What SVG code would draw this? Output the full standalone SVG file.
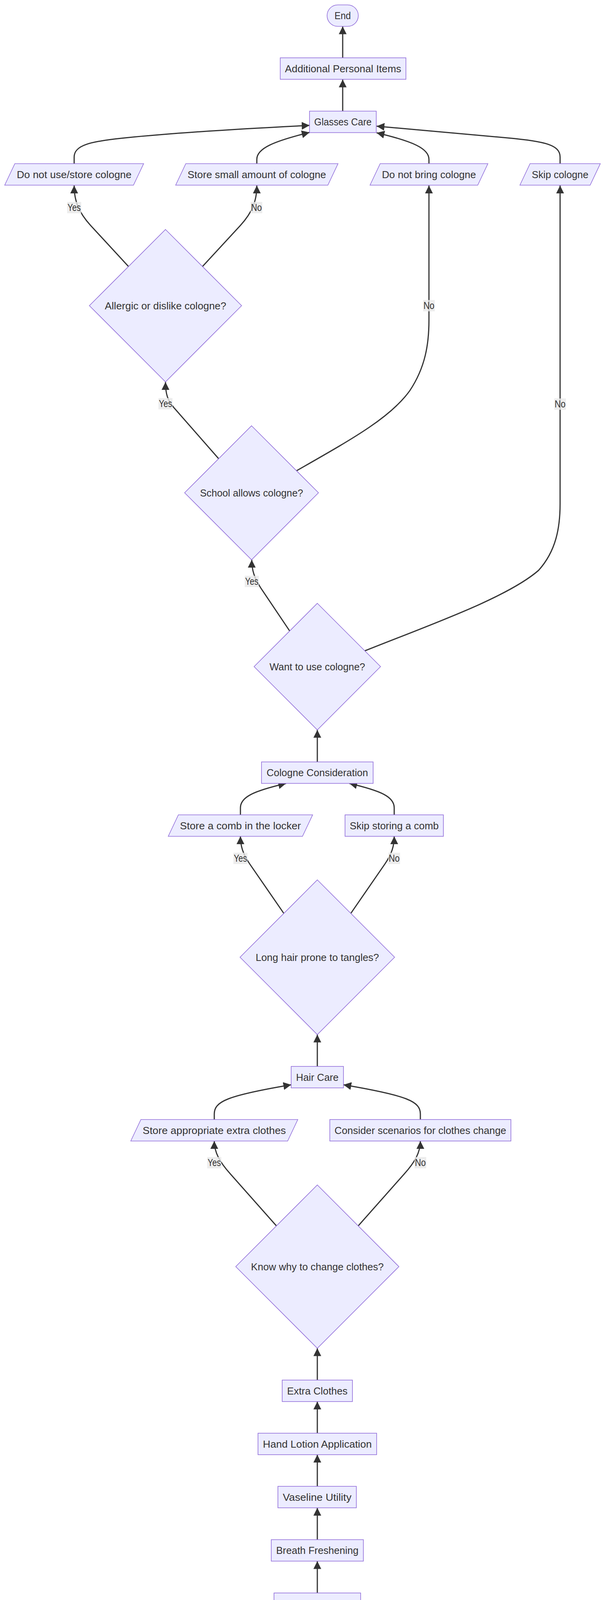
<svg xmlns="http://www.w3.org/2000/svg" width="1568" height="5918" viewBox="0 0 1568 5918">
<defs>
<marker id="arrow" viewBox="0 0 10 10" refX="10" refY="5" markerUnits="userSpaceOnUse" markerWidth="20" markerHeight="20" orient="auto">
<path d="M0,0 L10,5 L0,10 z" fill="#333333"/>
</marker>
</defs>
<style>
.node{fill:#ECECFF;stroke:#9370DB;stroke-width:1.6}
.t{font-family:"Liberation Sans",Arial,sans-serif;font-size:26px;fill:#333333;text-anchor:middle}
.e{fill:none;stroke:#333333;stroke-width:3;marker-end:url(#arrow)}
.lb{fill:#E8E8E8;fill-opacity:0.8}
.lt{font-family:"Liberation Sans",Arial,sans-serif;font-size:25px;fill:#333333;text-anchor:middle}
</style>
<rect width="1568" height="5918" fill="#ffffff"/>
<g id="edges">
<path class="e" d="M329,682 L232,577 C202,544 190,515 190,475"/>
<path class="e" d="M519,682 L616,577 C646,544 658,515 658,475"/>
<path class="e" d="M560,1174 L445,1043 C430,1025 424,1010 424,978"/>
<path class="e" d="M760,1205 C900,1125 1000,1070 1050,1000 C1090,940 1099,880 1099,820 L1099,475"/>
<path class="e" d="M742,1615 L668,1505 C652,1480 645,1460 645,1433"/>
<path class="e" d="M935,1666 C1100,1600 1300,1530 1380,1460 C1425,1410 1435,1350 1435,1290 L1435,475"/>
<path class="e" d="M190,419 L190,402 C190,372 230,362 320,353 C450,340 650,328 793,321"/>
<path class="e" d="M658,419 L658,408 C658,380 700,362 793,339"/>
<path class="e" d="M1099,419 L1099,408 C1099,380 1058,362 965,340"/>
<path class="e" d="M1435,419 L1435,402 C1435,372 1400,362 1300,353 C1150,340 1050,330 965,323"/>
<path class="e" d="M878,284 L878,203.5"/>
<path class="e" d="M878,148 L878,67.5"/>
<path class="e" d="M813,1950 L813,1868.5"/>
<path class="e" d="M616,2086 L616,2068 C616,2040 650,2025 733,2005.5"/>
<path class="e" d="M1010,2086 L1010,2068 C1010,2040 978,2025 895,2005.5"/>
<path class="e" d="M727,2338 L640,2212 C622,2186 616,2165 616,2141"/>
<path class="e" d="M899,2338 L986,2212 C1004,2186 1010,2165 1010,2141"/>
<path class="e" d="M813,2730 L813,2648.5"/>
<path class="e" d="M549,2866 L549,2852 C549,2820 580,2805 746,2777"/>
<path class="e" d="M1077,2866 L1077,2852 C1077,2820 1046,2805 880,2777"/>
<path class="e" d="M708,3138 L590,3005 C563,2975 549,2950 549,2921"/>
<path class="e" d="M918,3138 L1036,3005 C1063,2975 1077,2950 1077,2921"/>
<path class="e" d="M813,3533 L813,3451.5"/>
<path class="e" d="M813,3669 L813,3588"/>
<path class="e" d="M813,3805 L813,3724"/>
<path class="e" d="M813,3941.5 L813,3860"/>
<path class="e" d="M813,4078 L813,3996.5"/>
<path class="e" d="M568,4214 L568,4198 C568,4165 600,4150 712,4132.5"/>
<path class="e" d="M1059,4214 L1059,4198 C1059,4165 1025,4150 915,4132.5"/>
<path class="e" d="M720,4472 L605,4357 C580,4330 568,4305 568,4268.5"/>
<path class="e" d="M906,4472 L1021,4357 C1046,4330 1058,4305 1058,4268.5"/>
<path class="e" d="M813,4815 L813,4733.5"/>
<path class="e" d="M602,4951 L602,4932 C602,4905 630,4890 718,4870"/>
<path class="e" d="M1023,4951 L1023,4932 C1023,4905 995,4890 906,4870"/>
<path class="e" d="M734,5197 L630,5087 C610,5063 602,5040 602,5006"/>
<path class="e" d="M892,5197 L996,5087 C1016,5063 1023,5040 1023,5006"/>
<path class="e" d="M813,5516 L813,5434"/>
<path class="e" d="M813,5652 L813,5571"/>
<path class="e" d="M813,5788 L813,5707"/>
</g>
<g id="edge-labels">
<rect class="lb" x="172" y="517" width="36" height="29"/><text class="lt" x="190" y="540" textLength="34" lengthAdjust="spacingAndGlyphs">Yes</text>
<rect class="lb" x="642" y="517" width="30" height="29"/><text class="lt" x="657" y="540" textLength="28" lengthAdjust="spacingAndGlyphs">No</text>
<rect class="lb" x="1084" y="768" width="30" height="29"/><text class="lt" x="1099" y="791" textLength="28" lengthAdjust="spacingAndGlyphs">No</text>
<rect class="lb" x="406" y="1019" width="36" height="29"/><text class="lt" x="424" y="1042" textLength="34" lengthAdjust="spacingAndGlyphs">Yes</text>
<rect class="lb" x="1420" y="1020" width="30" height="29"/><text class="lt" x="1435" y="1043" textLength="28" lengthAdjust="spacingAndGlyphs">No</text>
<rect class="lb" x="627" y="1474" width="36" height="29"/><text class="lt" x="645" y="1497" textLength="34" lengthAdjust="spacingAndGlyphs">Yes</text>
<rect class="lb" x="598" y="2183" width="36" height="29"/><text class="lt" x="616" y="2206" textLength="34" lengthAdjust="spacingAndGlyphs">Yes</text>
<rect class="lb" x="995" y="2183" width="30" height="29"/><text class="lt" x="1010" y="2206" textLength="28" lengthAdjust="spacingAndGlyphs">No</text>
<rect class="lb" x="531" y="2962" width="36" height="29"/><text class="lt" x="549" y="2985" textLength="34" lengthAdjust="spacingAndGlyphs">Yes</text>
<rect class="lb" x="1062" y="2962" width="30" height="29"/><text class="lt" x="1077" y="2985" textLength="28" lengthAdjust="spacingAndGlyphs">No</text>
<rect class="lb" x="549" y="4308" width="36" height="29"/><text class="lt" x="567" y="4331" textLength="34" lengthAdjust="spacingAndGlyphs">Yes</text>
<rect class="lb" x="1043" y="4308" width="30" height="29"/><text class="lt" x="1058" y="4331" textLength="28" lengthAdjust="spacingAndGlyphs">No</text>
<rect class="lb" x="584" y="5049" width="36" height="29"/><text class="lt" x="602" y="5072" textLength="34" lengthAdjust="spacingAndGlyphs">Yes</text>
<rect class="lb" x="1008" y="5049" width="30" height="29"/><text class="lt" x="1023" y="5072" textLength="28" lengthAdjust="spacingAndGlyphs">No</text>
</g>
<g id="End"><rect class="node" x="838" y="12.5" width="80" height="55" rx="27.5" ry="27.5"/><text class="t" x="878" y="49" textLength="42" lengthAdjust="spacingAndGlyphs">End</text></g>
<g id="AdditionalPersonalItems"><rect class="node" x="718" y="148" width="322" height="55"/><text class="t" x="879" y="184.5" textLength="298" lengthAdjust="spacingAndGlyphs">Additional Personal Items</text></g>
<g id="GlassesCare"><rect class="node" x="793" y="284.5" width="171" height="55"/><text class="t" x="878.5" y="321" textLength="147" lengthAdjust="spacingAndGlyphs">Glasses Care</text></g>
<g id="DoNotUseCologne"><polygon class="node" points="12,474 38,419 368,419 342,474"/><text class="t" x="190" y="455.5" textLength="294" lengthAdjust="spacingAndGlyphs">Do not use/store cologne</text></g>
<g id="StoreSmallCologne"><polygon class="node" points="450,474 476,419 866,419 840,474"/><text class="t" x="658" y="455.5" textLength="355" lengthAdjust="spacingAndGlyphs">Store small amount of cologne</text></g>
<g id="DoNotBringCologne"><polygon class="node" points="948,474 974,419 1250,419 1224,474"/><text class="t" x="1099" y="455.5" textLength="241" lengthAdjust="spacingAndGlyphs">Do not bring cologne</text></g>
<g id="SkipCologne"><polygon class="node" points="1332,474 1358,419 1538,419 1512,474"/><text class="t" x="1435" y="455.5" textLength="145" lengthAdjust="spacingAndGlyphs">Skip cologne</text></g>
<g id="AllergicCologne"><polygon class="node" points="424,587.5 619,782.5 424,977.5 229,782.5"/><text class="t" x="424" y="791.5" textLength="311" lengthAdjust="spacingAndGlyphs">Allergic or dislike cologne?</text></g>
<g id="SchoolAllows"><polygon class="node" points="644.5,1090 816,1261.5 644.5,1433 473,1261.5"/><text class="t" x="644.5" y="1270.5" textLength="264" lengthAdjust="spacingAndGlyphs">School allows cologne?</text></g>
<g id="WantCologne"><polygon class="node" points="813,1544.5 975,1706.5 813,1868.5 651,1706.5"/><text class="t" x="813" y="1715.5" textLength="245" lengthAdjust="spacingAndGlyphs">Want to use cologne?</text></g>
<g id="CologneConsideration"><rect class="node" x="670" y="1950.5" width="286" height="55"/><text class="t" x="813" y="1987" textLength="260" lengthAdjust="spacingAndGlyphs">Cologne Consideration</text></g>
<g id="StoreComb"><polygon class="node" points="431,2141 457,2086 801,2086 775,2141"/><text class="t" x="616" y="2122.5" textLength="310" lengthAdjust="spacingAndGlyphs">Store a comb in the locker</text></g>
<g id="SkipComb"><rect class="node" x="884" y="2086" width="252" height="55"/><text class="t" x="1010" y="2122.5" textLength="228" lengthAdjust="spacingAndGlyphs">Skip storing a comb</text></g>
<g id="LongHair"><polygon class="node" points="813,2252.5 1011,2450.5 813,2648.5 615,2450.5"/><text class="t" x="813" y="2459.5" textLength="316" lengthAdjust="spacingAndGlyphs">Long hair prone to tangles?</text></g>
<g id="HairCare"><rect class="node" x="746" y="2730" width="134" height="55"/><text class="t" x="813" y="2766.5" textLength="109" lengthAdjust="spacingAndGlyphs">Hair Care</text></g>
<g id="StoreExtraClothes"><polygon class="node" points="335,2921 361,2866 763,2866 737,2921"/><text class="t" x="549" y="2902.5" textLength="367" lengthAdjust="spacingAndGlyphs">Store appropriate extra clothes</text></g>
<g id="ConsiderScenarios"><rect class="node" x="845" y="2866" width="464" height="55"/><text class="t" x="1077" y="2902.5" textLength="440" lengthAdjust="spacingAndGlyphs">Consider scenarios for clothes change</text></g>
<g id="KnowWhyChange"><polygon class="node" points="813,3033.5 1022,3242.5 813,3451.5 604,3242.5"/><text class="t" x="813" y="3251.5" textLength="340" lengthAdjust="spacingAndGlyphs">Know why to change clothes?</text></g>
<g id="ExtraClothes"><rect class="node" x="723" y="3533" width="180" height="55"/><text class="t" x="813" y="3569.5" textLength="155" lengthAdjust="spacingAndGlyphs">Extra Clothes</text></g>
<g id="HandLotion"><rect class="node" x="661" y="3669" width="304" height="55"/><text class="t" x="813" y="3705.5" textLength="279" lengthAdjust="spacingAndGlyphs">Hand Lotion Application</text></g>
<g id="VaselineUtility"><rect class="node" x="712" y="3805" width="201" height="55"/><text class="t" x="812.5" y="3841.5" textLength="176" lengthAdjust="spacingAndGlyphs">Vaseline Utility</text></g>
<g id="BreathFreshening"><rect class="node" x="695" y="3941.5" width="236" height="55"/><text class="t" x="813" y="3978" textLength="211" lengthAdjust="spacingAndGlyphs">Breath Freshening</text></g>
<g id="DeodorantUsage"><rect class="node" x="702" y="4078" width="222" height="55"/><text class="t" x="813" y="4114.5" textLength="197" lengthAdjust="spacingAndGlyphs">Deodorant Usage</text></g>
<g id="DoNotStoreLarge"><polygon class="node" points="400,4268.5 426,4213.5 736,4213.5 710,4268.5"/><text class="t" x="568" y="4250" textLength="275" lengthAdjust="spacingAndGlyphs">Do not store large sums</text></g>
<g id="StoreSmallEmergencies"><polygon class="node" points="817,4268.5 843,4213.5 1300,4213.5 1274,4268.5"/><text class="t" x="1058.5" y="4250" textLength="423" lengthAdjust="spacingAndGlyphs">Store small amount for emergencies</text></g>
<g id="IsMoneyLarge"><polygon class="node" points="813,4379.5 990,4556.5 813,4733.5 636,4556.5"/><text class="t" x="813" y="4565.5" textLength="274" lengthAdjust="spacingAndGlyphs">Is money amount large?</text></g>
<g id="EmergencyMoney"><rect class="node" x="641" y="4815" width="344" height="55"/><text class="t" x="813" y="4851.5" textLength="319" lengthAdjust="spacingAndGlyphs">Emergency Money Handling</text></g>
<g id="EnsureLocked"><polygon class="node" points="438,5006 464,4951 766,4951 740,5006"/><text class="t" x="602" y="4987.5" textLength="268" lengthAdjust="spacingAndGlyphs">Ensure locker is locked</text></g>
<g id="ContinueWithout"><polygon class="node" points="847,5006 873,4951 1200,4951 1174,5006"/><text class="t" x="1023.5" y="4987.5" textLength="293" lengthAdjust="spacingAndGlyphs">Continue without locking</text></g>
<g id="NeedLock"><polygon class="node" points="813,5118 971,5276 813,5434 655,5276"/><text class="t" x="813" y="5285" textLength="238" lengthAdjust="spacingAndGlyphs">Need to lock locker?</text></g>
<g id="LockerOrganization"><rect class="node" x="683" y="5516" width="259" height="55"/><text class="t" x="812.5" y="5552.5" textLength="232" lengthAdjust="spacingAndGlyphs">Locker Organization</text></g>
<g id="ListEssentials"><polygon class="node" points="646,5707 672,5652 980,5652 954,5707"/><text class="t" x="813" y="5688.5" textLength="273" lengthAdjust="spacingAndGlyphs">List of locker essentials</text></g>
<g id="Start"><rect class="node" x="766" y="5788" width="95" height="55" rx="27.5" ry="27.5"/><text class="t" x="813.5" y="5824.5" textLength="56" lengthAdjust="spacingAndGlyphs">Start</text></g>
</svg>
